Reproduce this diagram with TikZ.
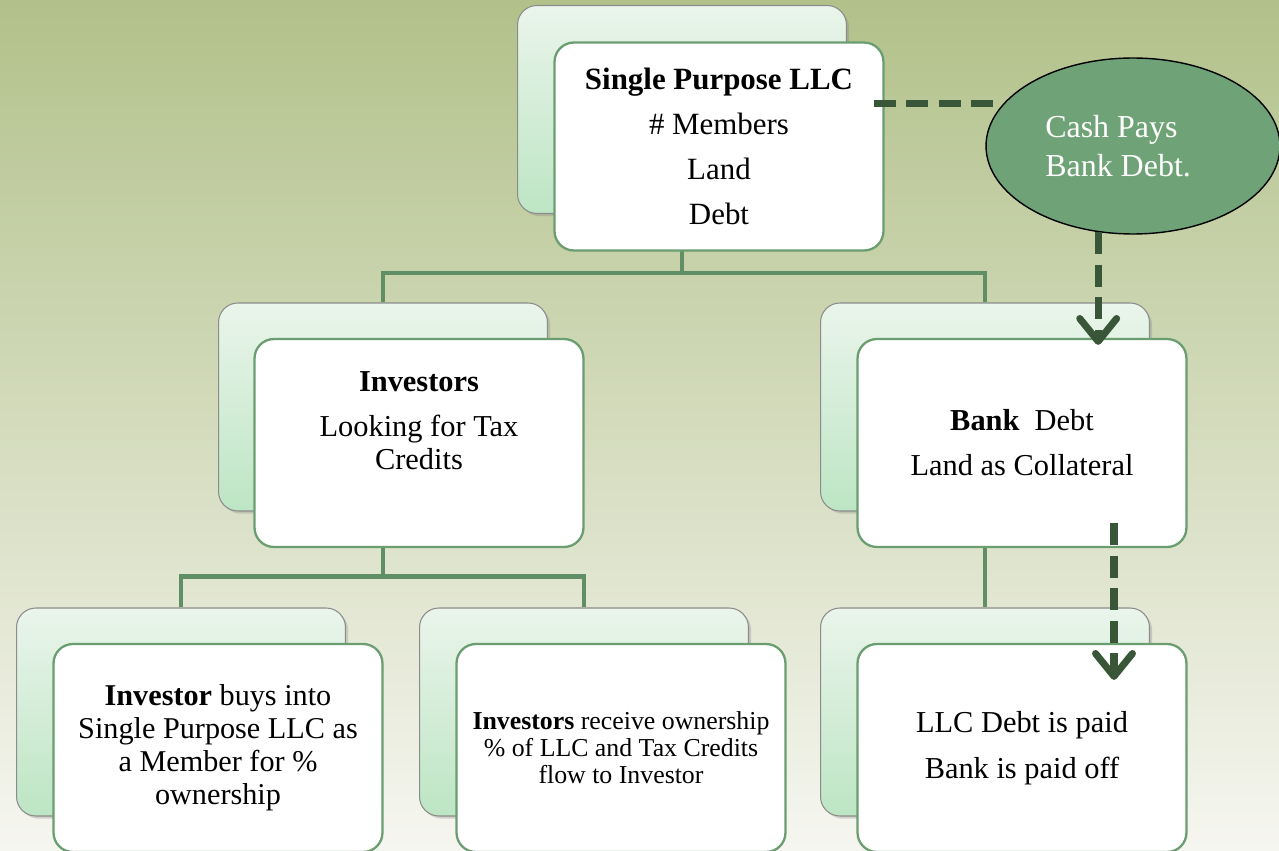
\documentclass[tikz,border=0pt]{standalone}
\usepackage{fontspec}
\setmainfont{Liberation Serif}
\usetikzlibrary{arrows.meta,positioning,calc,shapes.geometric,shadows}
\definecolor{bgtop}{RGB}{178,193,138}
\definecolor{bgbottom}{RGB}{246,246,240}
\definecolor{cardtop}{RGB}{234,245,235}
\definecolor{cardbottom}{RGB}{189,229,196}
\definecolor{cardedge}{RGB}{106,158,112}
\definecolor{treegreen}{RGB}{96,142,101}
\definecolor{flowgreen}{RGB}{57,86,57}
\definecolor{cashgreen}{RGB}{111,162,119}

\begin{document}
\begin{tikzpicture}[
    x=0.02cm, y=-0.02cm,
    font=\fontsize{17.3}{25.5}\selectfont,
    backcard/.style={rectangle, rounded corners=11pt, minimum width=6.58cm, minimum height=4.16cm,
        draw=black!45, line width=0.6pt, top color=cardtop, bottom color=cardbottom,
        drop shadow={shadow xshift=1.5pt, shadow yshift=-1.5pt, opacity=0.3}},
    frontcard/.style={rectangle, rounded corners=11pt, minimum width=6.58cm, minimum height=4.16cm,
        draw=cardedge, line width=1.3pt, fill=white, align=center, inner sep=2pt},
    tree/.style={draw=treegreen, line width=2.6pt},
    flow/.style={draw=flowgreen, line width=4pt, dash pattern=on 12.5pt off 6pt},
    >={Straight Barb[length=13pt, width=21pt, round]}
]
    % Background
    \shade[top color=bgtop, bottom color=bgbottom] (0,0) rectangle (1279,851);
    \useasboundingbox (0,0) rectangle (1279,851);

    % Back cards
    \node[backcard] (llcback) at (682,109.5) {};
    \node[backcard] (invback) at (383,407) {};
    \node[backcard] (bankback) at (985,407) {};
    \node[backcard] (blback) at (181,712) {};
    \node[backcard] (bmback) at (584,712) {};
    \node[backcard] (brback) at (985,712) {};

    % Tree connectors
    \coordinate (fork1) at ($(llcback.south)+(0,59)$);
    \draw[tree] (llcback.south) -- (fork1) -| (invback.north);
    \draw[tree] (fork1) -| (bankback.north);
    \coordinate (fork2) at ($(invback.south)+(0,65)$);
    \draw[tree] (invback.south) -- (fork2) -| (blback.north);
    \draw[tree] (fork2) -| (bmback.north);
    \draw[tree] (bankback.south) -- (brback.north);

    % Front cards
    \node[frontcard, font=\fontsize{17.6}{25.5}\selectfont] (llcfront) at ([shift={(37,37)}]llcback.center)
        {\textbf{Single Purpose LLC}\\ \# Members\\ Land\\ Debt};
    \node[frontcard, font=\fontsize{17.3}{18.7}\selectfont] (invfront) at ([shift={(36,36)}]invback.center)
        {\textbf{Investors}\\[6.8pt] Looking for Tax\\ Credits\\[7pt] \mbox{}};
    \node[frontcard] (bankfront) at ([shift={(37,36)}]bankback.center)
        {\textbf{Bank}~ Debt\\ Land as Collateral};
    \node[frontcard, font=\fontsize{17.2}{18.7}\selectfont] (blfront) at ([shift={(37,36)}]blback.center)
        {\textbf{Investor} buys into\\ Single Purpose LLC as\\ a Member for \%\\ ownership};
    \node[frontcard, font=\fontsize{14.7}{15.3}\selectfont] (bmfront) at ([shift={(37,36)}]bmback.center)
        {\textbf{Investors} receive ownership\\ \% of LLC and Tax Credits\\ flow to Investor};
    \node[frontcard, font=\fontsize{17.3}{26}\selectfont] (brfront) at ([shift={(37,36)}]brback.center)
        {LLC Debt is paid\\ Bank is paid off};

    % Cash ellipse
    \node[ellipse, draw=black, line width=0.8pt, fill=cashgreen, minimum width=5.88cm, minimum height=3.52cm,
        inner sep=0pt, align=left, text=white, font=\fontsize{18.2}{22}\selectfont] (cash) at (1133,146)
        {Cash Pays\\ Bank Debt.\hspace*{17pt}};

    % Cash flow
    \draw[flow] ($(cash.162 -| llcfront.east)+(-11,0)$) -- (cash.162);
    \draw[flow, ->] (cash.248) -- ($(cash.248 |- bankfront.north)+(0,7)$);
    \draw[flow, ->] ($(bankfront.south)+(92,-25)$) -- ($(brfront.north)+(92,37)$);

\end{tikzpicture}
\end{document}
